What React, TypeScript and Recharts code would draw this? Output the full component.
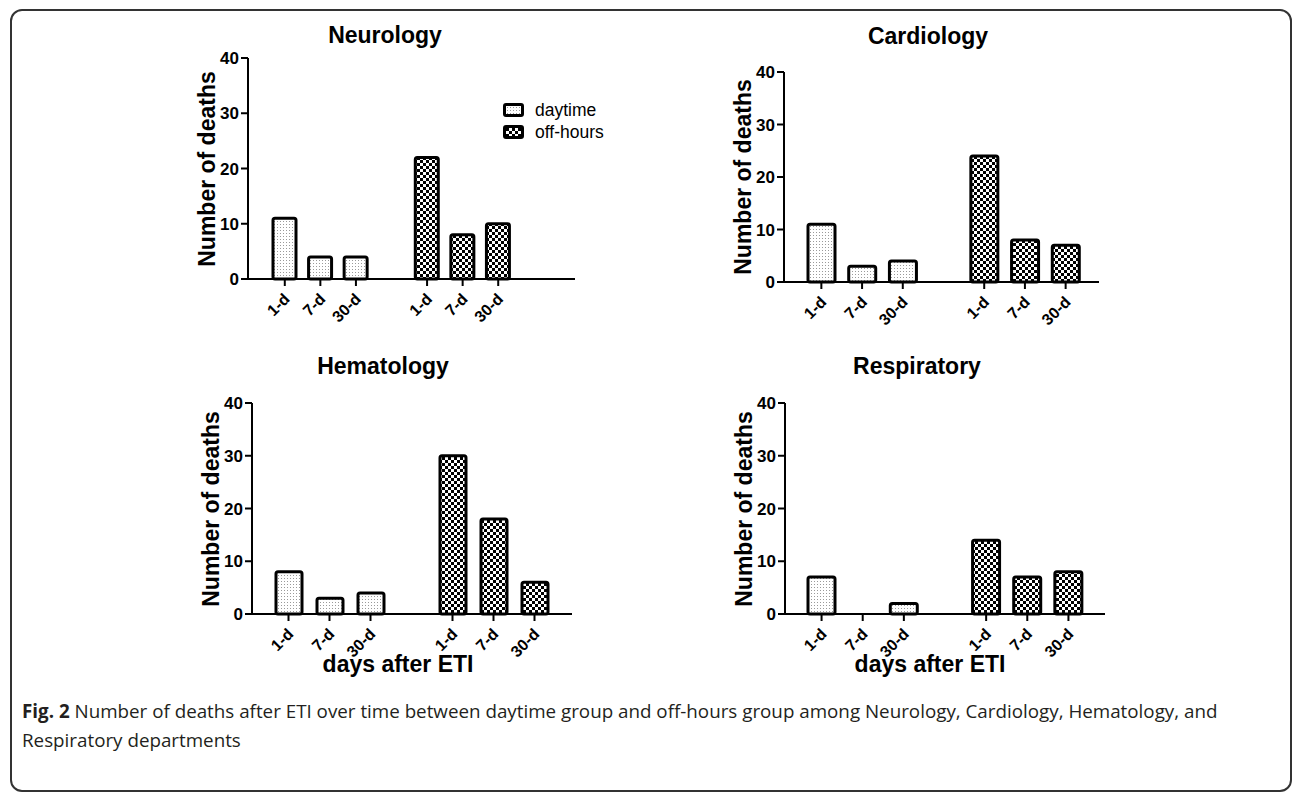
import React from "react";
import { BarChart, Bar, XAxis, YAxis } from "recharts";

const dayLabels = ["1-d", "7-d", "30-d"];
const yTicks = [0, 10, 20, 30, 40];
const seriesNames = ["daytime", "off-hours"];

const neurologyDaytime = [11, 4, 4];
const neurologyOffHours = [22, 8, 10];
const cardiologyDaytime = [11, 3, 4];
const cardiologyOffHours = [24, 8, 7];
const hematologyDaytime = [8, 3, 4];
const hematologyOffHours = [30, 18, 6];
const respiratoryDaytime = [7, 0, 2];
const respiratoryOffHours = [14, 7, 8];

const FONT = "'Liberation Sans', Arial, Helvetica, sans-serif";

function buildRows(daytime: number[], offHours: number[]) {
  return [
    ...dayLabels.map((label, i) => ({ label, daytime: daytime[i] })),
    { label: "" },
    ...dayLabels.map((label, i) => ({ label, offHours: offHours[i] })),
  ];
}

function Patterns({ id }: { id: string }) {
  return (
    <defs>
      <pattern id={`dots-${id}`} width={3} height={3} patternUnits="userSpaceOnUse">
        <rect width={3} height={3} fill="#fff" />
        <rect x={1} y={1} width={1} height={1} fill="#9a9a9a" />
      </pattern>
      <pattern id={`checks-${id}`} width={6} height={6} patternUnits="userSpaceOnUse">
        <rect width={6} height={6} fill="#fff" />
        <rect x={0} y={0} width={3} height={3} fill="#000" />
        <rect x={3} y={3} width={3} height={3} fill="#000" />
      </pattern>
    </defs>
  );
}

function XTick({ x, y, payload }: any) {
  if (!payload || !payload.value) return <g />;
  const px = x + 6;
  const py = y + 21;
  return (
    <g>
      <line x1={x} y1={y} x2={x} y2={y + 7} stroke="#000" strokeWidth={2} />
      <text
        x={px}
        y={py}
        transform={`rotate(-45 ${px} ${py})`}
        textAnchor="end"
        fontSize={16}
        fontWeight="bold"
        fontFamily={FONT}
        fill="#000"
      >
        {payload.value}
      </text>
    </g>
  );
}

type Plot = { left: number; top: number; right: number; bottom: number };

function Panel({
  id,
  title,
  titleX,
  titleY,
  daytime,
  offHours,
  plot,
  padLeft,
  padRight,
  barSize,
}: {
  id: string;
  title: string;
  titleX: number;
  titleY: number;
  daytime: number[];
  offHours: number[];
  plot: Plot;
  padLeft: number;
  padRight: number;
  barSize: number;
}) {
  const yw = 50;
  const mt = 12;
  const mr = 6;
  const xh = 60;
  const width = plot.right - plot.left + yw + mr;
  const height = plot.bottom - plot.top + mt + xh;
  const rows = buildRows(daytime, offHours);
  const cy = (plot.top + plot.bottom) / 2;

  return (
    <>
      <div
        style={{
          position: "absolute",
          left: titleX - 150,
          width: 300,
          top: titleY - 14,
          textAlign: "center",
          fontSize: 23,
          fontWeight: "bold",
          lineHeight: "28px",
        }}
      >
        {title}
      </div>
      <div
        style={{
          position: "absolute",
          left: plot.left - 41 - 150,
          top: cy - 14,
          width: 300,
          height: 28,
          lineHeight: "28px",
          textAlign: "center",
          fontSize: 23,
          fontWeight: "bold",
          transform: "rotate(-90deg)",
        }}
      >
        Number of deaths
      </div>
      <div style={{ position: "absolute", left: plot.left - yw, top: plot.top - mt }}>
        <BarChart
          width={width}
          height={height}
          data={rows}
          margin={{ top: mt, right: mr, bottom: 0, left: 0 }}
        >
          <Patterns id={id} />
          <XAxis
            dataKey="label"
            height={xh}
            interval={0}
            padding={{ left: padLeft, right: padRight }}
            tickLine={false}
            tickSize={0}
            tickMargin={0}
            axisLine={{ stroke: "#000", strokeWidth: 2 }}
            tick={<XTick />}
          />
          <YAxis
            width={yw}
            domain={[0, 40]}
            ticks={yTicks}
            interval={0}
            tickSize={7}
            tickMargin={2}
            axisLine={{ stroke: "#000", strokeWidth: 2 }}
            tickLine={{ stroke: "#000", strokeWidth: 2 }}
            tick={{ fill: "#000", fontSize: 17, fontWeight: "bold", fontFamily: FONT }}
          />
          <Bar
            dataKey="daytime"
            name={seriesNames[0]}
            stackId="a"
            barSize={barSize}
            fill={`url(#dots-${id})`}
            stroke="#000"
            strokeWidth={3}
            radius={2}
            isAnimationActive={false}
          />
          <Bar
            dataKey="offHours"
            name={seriesNames[1]}
            stackId="a"
            barSize={barSize}
            fill={`url(#checks-${id})`}
            stroke="#000"
            strokeWidth={3}
            radius={2}
            isAnimationActive={false}
          />
        </BarChart>
      </div>
    </>
  );
}

function Swatch({ kind }: { kind: "dots" | "checks" }) {
  return (
    <svg width={21} height={14} style={{ display: "block" }}>
      <Patterns id={`legend-${kind}`} />
      <rect
        x={1.5}
        y={1.5}
        width={18}
        height={11}
        rx={1.5}
        fill={`url(#${kind}-legend-${kind})`}
        stroke="#000"
        strokeWidth={3}
      />
    </svg>
  );
}

export default function App() {
  return (
    <div
      style={{
        position: "fixed",
        left: 0,
        top: 0,
        width: 1292,
        height: 793,
        overflow: "hidden",
        background: "#fff",
        fontFamily: FONT,
        color: "#000",
      }}
    >
      <div
        style={{
          position: "absolute",
          left: 10,
          top: 9,
          width: 1282,
          height: 783,
          boxSizing: "border-box",
          border: "2px solid #333",
          borderRadius: 12,
        }}
      />

      <Panel
        id="neuro"
        title="Neurology"
        titleX={385}
        titleY={35}
        daytime={neurologyDaytime}
        offHours={neurologyOffHours}
        plot={{ left: 248, top: 58, right: 575, bottom: 279 }}
        padLeft={19}
        padRight={59}
        barSize={23}
      />
      <Panel
        id="cardio"
        title="Cardiology"
        titleX={928}
        titleY={36}
        daytime={cardiologyDaytime}
        offHours={cardiologyOffHours}
        plot={{ left: 784, top: 72, right: 1099, bottom: 282 }}
        padLeft={17}
        padRight={13}
        barSize={27}
      />
      <Panel
        id="hema"
        title="Hematology"
        titleX={383}
        titleY={366}
        daytime={hematologyDaytime}
        offHours={hematologyOffHours}
        plot={{ left: 252, top: 403, right: 572, bottom: 614 }}
        padLeft={16}
        padRight={17}
        barSize={26}
      />
      <Panel
        id="resp"
        title="Respiratory"
        titleX={917}
        titleY={366}
        daytime={respiratoryDaytime}
        offHours={respiratoryOffHours}
        plot={{ left: 785, top: 403, right: 1105, bottom: 614 }}
        padLeft={16}
        padRight={16}
        barSize={27}
      />

      {/* legend */}
      <div style={{ position: "absolute", left: 503, top: 102, display: "flex", alignItems: "center" }}>
        <Swatch kind="dots" />
        <span style={{ marginLeft: 11, fontSize: 17.5, lineHeight: "16px" }}>{seriesNames[0]}</span>
      </div>
      <div style={{ position: "absolute", left: 503, top: 124, display: "flex", alignItems: "center" }}>
        <Swatch kind="checks" />
        <span style={{ marginLeft: 11, fontSize: 17.5, lineHeight: "16px" }}>{seriesNames[1]}</span>
      </div>

      {/* shared x titles */}
      <div style={{ position: "absolute", left: 248, width: 300, top: 651, textAlign: "center", fontSize: 23, fontWeight: "bold" }}>
        days after ETI
      </div>
      <div style={{ position: "absolute", left: 780, width: 300, top: 651, textAlign: "center", fontSize: 23, fontWeight: "bold" }}>
        days after ETI
      </div>

      {/* caption */}
      <div
        style={{
          position: "absolute",
          left: 22,
          top: 697,
          fontFamily: "'Open Sans', 'Noto Sans', sans-serif",
          fontSize: 18.8,
          lineHeight: "29px",
          color: "#231f20",
          whiteSpace: "nowrap",
        }}
      >
        <b>Fig. 2</b> Number of deaths after ETI over time between daytime group and off-hours group among Neurology, Cardiology, Hematology, and
        <br />
        Respiratory departments
      </div>
    </div>
  );
}
